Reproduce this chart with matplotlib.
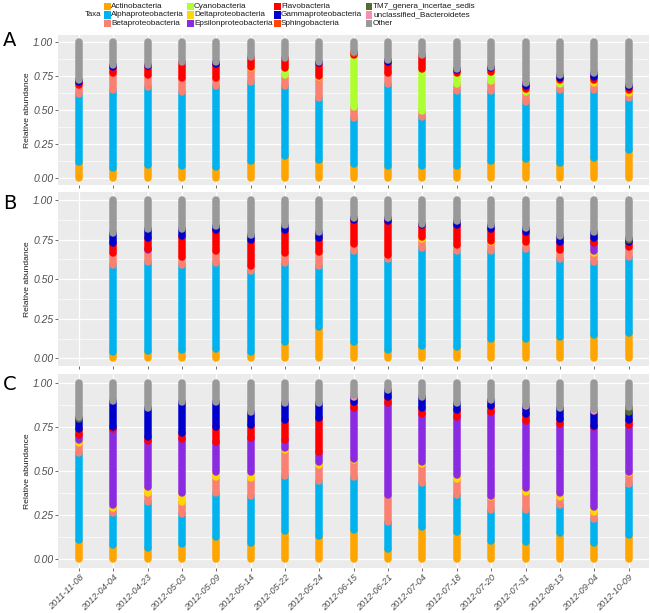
import matplotlib
matplotlib.use("Agg")
import matplotlib.pyplot as plt
from matplotlib.patches import Rectangle
import numpy as np

dates = ["2011-11-08", "2012-04-04", "2012-04-23", "2012-05-03", "2012-05-09", "2012-05-14",
         "2012-05-22", "2012-05-24", "2012-06-15", "2012-06-21", "2012-07-04", "2012-07-18",
         "2012-07-20", "2012-07-31", "2012-08-13", "2012-09-04", "2012-10-09"]

taxa = ["Actinobacteria", "Alphaproteobacteria", "Betaproteobacteria", "Cyanobacteria",
        "Deltaproteobacteria", "Epsilonproteobacteria", "Flavobacteria", "Gammaproteobacteria",
        "Sphingobacteria", "TM7_genera_incertae_sedis", "unclassified_Bacteroidetes", "Other"]

colors = ["#FFA500", "#00B2EE", "#FA8072", "#ADFF2F", "#FFD700", "#8A2BE2",
          "#FF0000", "#0000CD", "#FF4500", "#556B2F", "#F48FB1", "#999999"]

# ---- Panel A ----
A_act   = [.12, .073, .10, .09, .085, .125, .16, .135, .105, .093, .093, .093, .127, .14, .115, .145, .21]
A_alpha = [.50, .572, .57, .545, .59, .58, .515, .45, .34, .60, .357, .547, .513, .42, .53, .50, .375]
A_beta  = [.06, .125, .085, .10, .06, .10, .08, .155, .075, .077, .045, .05, .07, .075, .045, .055, .04]
A_cyano = [0, 0, 0, 0, 0, 0, .055, 0, .38, 0, .305, .08, .065, .01, .02, 0, 0]
A_delta = [0, 0, 0, 0, 0, .008, 0, .01, 0, 0, 0, 0, 0, .008, .01, .02, .02]
A_eps   = [0]*17
A_flavo = [.025, .045, .07, .115, .10, .072, .07, .095, .02, .085, .10, .025, .03, .022, .012, .025, .02]
A_gamma = [.015, .015, .005, .005, .015, 0, 0, .005, 0, .01, .005, .005, .01, .02, .023, .025, .015]
A_sphin = [0, 0, 0, 0, 0, 0, 0, 0, .005, 0, 0, 0, 0, 0, 0, 0, 0]
A_tm7   = [0]*17
A_uncl  = [0]*17
A_other = [.28, .17, .17, .145, .15, .115, .12, .15, .075, .135, .095, .20, .185, .305, .245, .23, .32]

# ---- Panel B ----
B_act   = [0, .04, .045, .05, .06, .04, .105, .20, .105, .05, .075, .074, .125, .125, .135, .147, .158]
B_alpha = [0, .55, .565, .54, .54, .51, .495, .385, .57, .58, .62, .606, .55, .565, .495, .463, .484]
B_beta  = [0, .073, .074, .05, .075, .035, .065, .085, .045, .025, .06, .035, .06, .047, .055, .053, .058]
B_cyano = [0]*17
B_delta = [0, 0, 0, 0, 0, 0, 0, 0, 0, 0, .01, 0, .005, 0, 0, .017, .005]
B_eps   = [0, 0, .008, 0, 0, 0, 0, 0, 0, 0, 0, 0, 0, 0, 0, .046, 0]
B_flavo = [0, .063, .066, .13, .135, .165, .145, .09, .155, .215, .075, .125, .08, .063, .052, .034, .028]
B_gamma = [0, .064, .062, .045, .025, .03, .03, .035, .01, .015, .01, .025, .02, .025, .033, .04, .017]
B_sphin = [0]*17
B_tm7   = [0, 0, 0, 0, 0, 0, 0, 0, 0, 0, 0, 0, 0, 0, 0, 0, .01]
B_uncl  = [0]*17
B_other = [0, .21, .18, .185, .165, .22, .16, .205, .115, .115, .15, .135, .16, .175, .23, .20, .24]

# ---- Panel C ----
C_act   = [.11, .08, .06, .085, .123, .09, .16, .13, .165, .055, .183, .155, .104, .098, .145, .089, .136]
C_alpha = [.493, .18, .265, .168, .249, .27, .31, .31, .302, .157, .247, .208, .174, .18, .161, .138, .289]
C_beta  = [.053, .03, .047, .072, .095, .097, .148, .093, .093, .151, .109, .089, .072, .104, .047, .041, .061]
C_cyano = [0]*17
C_delta = [.019, .016, .034, .047, .028, .038, .01, .019, .01, 0, .013, .024, .005, .018, .019, .029, .009]
C_eps   = [.028, .429, .264, .308, .17, .189, .047, .057, .288, .524, .27, .327, .481, .384, .392, .449, .265]
C_flavo = [.032, .015, .02, .033, .082, .076, .113, .188, .034, .033, .032, .042, .032, .038, .028, .008, .028]
C_gamma = [.059, .148, .165, .177, .143, .075, .095, .086, .028, .038, .063, .038, .032, .045, .066, .087, .048]
C_sphin = [0]*17
C_tm7   = [.013, 0, 0, 0, 0, 0, 0, 0, 0, 0, 0, 0, 0, 0, 0, 0, .028]
C_uncl  = [0, 0, 0, 0, 0, 0, 0, 0, .01, 0, 0, 0, 0, .006, 0, .008, 0]
C_other = [.193, .102, .145, .11, .11, .165, .117, .117, .07, .042, .083, .117, .10, .127, .142, .151, .136]

panels = {
    "A": [A_act, A_alpha, A_beta, A_cyano, A_delta, A_eps, A_flavo, A_gamma, A_sphin, A_tm7, A_uncl, A_other],
    "B": [B_act, B_alpha, B_beta, B_cyano, B_delta, B_eps, B_flavo, B_gamma, B_sphin, B_tm7, B_uncl, B_other],
    "C": [C_act, C_alpha, C_beta, C_cyano, C_delta, C_eps, C_flavo, C_gamma, C_sphin, C_tm7, C_uncl, C_other],
}

W, H = 650, 613
fig = plt.figure(figsize=(W / 100, H / 100), dpi=100)
FONT = "Liberation Sans"

# panel pixel boxes: left, top, right, bottom
boxes = {"A": (58.4, 34.9, 649.2, 185.1),
         "B": (58.4, 192.1, 649.2, 366.2),
         "C": (58.4, 373.9, 649.2, 567.8)}
letter_y = {"A": 40, "B": 203, "C": 384}

x = np.arange(len(dates))
for name, vals in panels.items():
    l, t, r, b = boxes[name]
    ax = fig.add_axes([l / W, 1 - b / H, (r - l) / W, (b - t) / H])
    ax.set_facecolor("#EBEBEB")
    for s in ax.spines.values():
        s.set_visible(False)
    ax.set_xlim(-0.6, len(dates) - 0.4)
    ax.set_ylim(-0.05, 1.05)
    ax.set_yticks([0, .25, .5, .75, 1.0])
    ax.set_yticklabels(["0.00", "0.25", "0.50", "0.75", "1.00"])
    ax.set_yticks([.125, .375, .625, .875], minor=True)
    ax.set_xticks(x)
    ax.grid(which="major", color="white", lw=0.9)
    ax.grid(which="minor", axis="y", color="white", lw=0.45)
    ax.set_axisbelow(True)
    ax.tick_params(axis="both", which="major", length=2.2, width=0.5, color="#333333",
                   labelsize=7.5, labelcolor="#4D4D4D", pad=1.5)
    ax.tick_params(axis="y", which="minor", length=0)
    for lab in ax.get_yticklabels():
        lab.set_fontstyle("italic")
        lab.set_fontfamily(FONT)
    if name == "C":
        ax.set_xticklabels(dates, rotation=45, ha="right", va="top",
                           rotation_mode="anchor", fontstyle="italic", fontfamily=FONT,
                           fontsize=6.6)
    else:
        ax.set_xticklabels([])
    ax.set_ylabel("Relative abundance", fontsize=6.1, fontfamily=FONT, color="#1A1A1A",
                  labelpad=1.5)

    for i in range(len(dates)):
        bottom = 0.0
        for k, series in enumerate(vals):
            v = series[i]
            if v > 0:
                ax.plot([x[i], x[i]], [bottom, bottom + v], color=colors[k], lw=5.4,
                        solid_capstyle="round", zorder=3)
            bottom += v

    fig.text(3 / W, 1 - letter_y[name] / H, name, fontsize=14, fontfamily="DejaVu Sans",
             ha="left", va="center")

# legend (manual, 4 columns x 3 rows, filled by column)
col_x = [104, 187, 274, 366]
row_y = [6.3, 15.0, 23.3]
fig.text(101 / W, 1 - 15.0 / H, "Taxa", fontsize=5.6, fontfamily=FONT, ha="right",
         va="center", color="#1A1A1A")
for k, tx in enumerate(taxa):
    c, rr = k // 3, k % 3
    kx, ky = col_x[c], row_y[rr]
    fig.patches.append(Rectangle((kx / W, 1 - (ky + 3.6) / H), 6.5 / W, 7.2 / H,
                                 transform=fig.transFigure, facecolor=colors[k],
                                 edgecolor="none"))
    fig.text((kx + 7.0) / W, 1 - ky / H, tx, fontsize=5.85, fontfamily=FONT,
             ha="left", va="center", color="#1A1A1A")

fig.savefig("out.png", dpi=100)
